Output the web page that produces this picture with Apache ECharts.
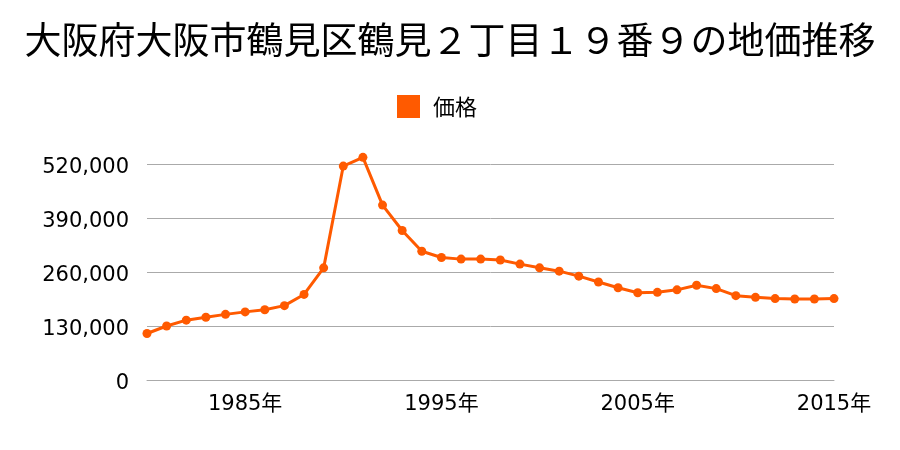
<!DOCTYPE html>
<html><head><meta charset="utf-8">
<script src="https://cdn.jsdelivr.net/npm/echarts@6/dist/echarts.min.js"></script>
<style>html,body{margin:0;padding:0;background:#fff}#c{width:900px;height:450px}</style>
</head><body><div id="c"></div>
<script>
const years = ["1980","1981","1982","1983","1984","1985","1986","1987","1988","1989","1990","1991","1992","1993","1994","1995","1996","1997","1998","1999","2000","2001","2002","2003","2004","2005","2006","2007","2008","2009","2010","2011","2012","2013","2014","2015"];
const prices = [112000,130000,144000,151000,158000,164000,169000,179000,206000,270000,515000,536000,421000,360000,310000,295000,291000,291000,289000,279000,270000,262000,250000,236000,222000,210000,211000,217000,228000,220000,203000,199000,196000,195000,195000,196000];
const labelYears = ["1985","1995","2005","2015"];
const seriesName = "価格";
const titleText = "大阪府大阪市鶴見区鶴見２丁目１９番９の地価推移";
const FONT = '"Noto Sans CJK JP", "Noto Sans", sans-serif';
const NUMFONT = '"DejaVu Sans", "Noto Sans CJK JP", sans-serif';
const chart = echarts.init(document.getElementById('c'));
chart.setOption({
  animation: false,
  title: {text: titleText, left: 'center', top: 16, textStyle: {fontFamily: FONT, fontSize: 37, fontWeight: 'normal', color: '#000'}},
  legend: {data: [seriesName], top: 90, left: 392, itemWidth: 23, itemHeight: 23, icon: 'rect', itemGap: 10,
    textStyle: {fontFamily: FONT, fontSize: 22, color: '#000', padding: [0, 0, 0, 8]}},
  grid: {left: 147, right: 66, top: 164, bottom: 70, containLabel: false},
  xAxis: {type: 'category', data: years, boundaryGap: false,
    axisLine: {lineStyle: {color: '#aaa', width: 1}}, axisTick: {show: false},
    axisLabel: {interval: 0, formatter: v => labelYears.includes(v) ? v + '年' : '', fontFamily: NUMFONT, fontSize: 21, color: '#000', margin: 14}},
  yAxis: {type: 'value', min: 0, max: 520000, interval: 130000,
    axisLine: {show: false}, axisTick: {show: false},
    splitLine: {lineStyle: {color: '#aaa', width: 1}},
    axisLabel: {formatter: v => '{a|' + v.toLocaleString('en-US') + '}', margin: 18,
      rich: {a: {fontFamily: NUMFONT, fontSize: 21, color: '#000', padding: [7, 0, 0, 0]}}}},
  series: [{name: seriesName, type: 'line', data: prices, clip: false, symbol: 'circle', symbolSize: 9,
    itemStyle: {color: '#ff5a00'}, lineStyle: {color: '#ff5a00', width: 3}}]
});
</script></body></html>
